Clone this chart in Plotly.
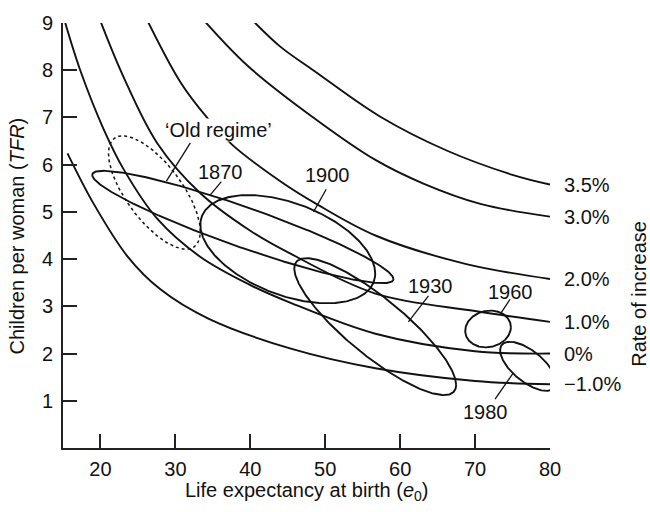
import numpy as np
import plotly.graph_objects as go

# ---------------- data ----------------
rate_labels = ["3.5%", "3.0%", "2.0%", "1.0%", "0%", "\u22121.0%"]

e0_r35 = [40.4, 44.0, 48.4, 57.3, 66.2, 75.1, 80.0]
tfr_r35 = [9.04, 8.50, 8.00, 7.02, 6.30, 5.78, 5.58]

e0_r30 = [33.9, 39.6, 48.4, 56.7, 63.1, 70.7, 80.0]
tfr_r30 = [9.04, 8.10, 7.00, 6.10, 5.60, 5.17, 4.90]

e0_r20 = [26.3, 30.7, 34.2, 37.6, 44.0, 48.7, 56.7, 68.7, 80.0]
tfr_r20 = [9.04, 7.74, 7.00, 6.42, 5.65, 5.18, 4.50, 3.90, 3.58]

e0_r10 = [20.0, 23.1, 27.6, 33.3, 40.0, 45.3, 56.7, 70.0, 80.0]
tfr_r10 = [9.04, 7.85, 6.45, 5.40, 4.60, 4.12, 3.27, 2.90, 2.67]

e0_r00 = [15.3, 17.3, 20.4, 23.1, 27.6, 33.3, 40.0, 45.3, 56.7, 70.0, 80.0]
tfr_r00 = [9.00, 8.00, 6.76, 5.90, 4.85, 4.05, 3.45, 3.08, 2.42, 2.05, 2.00]

e0_rm10 = [15.6, 19.1, 23.6, 28.0, 34.4, 45.3, 56.7, 70.0, 80.0]
tfr_rm10 = [6.24, 5.17, 4.06, 3.36, 2.74, 2.11, 1.69, 1.42, 1.35]

curve_e0 = [e0_r35, e0_r30, e0_r20, e0_r10, e0_r00, e0_rm10]
curve_tfr = [tfr_r35, tfr_r30, tfr_r20, tfr_r10, tfr_r00, tfr_rm10]

# ellipses: name, centre e0, centre TFR, half-range e0, half-range TFR, correlation
ell_names = ["\u2018Old regime\u2019", "1870", "1900", "1930", "1960", "1980"]
ell_cx = [27.2, 39.0, 45.0, 56.67, 71.73, 77.07]
ell_cy = [5.41, 4.68, 4.21, 2.57, 2.52, 1.73]
ell_sx = [6.13, 20.1, 11.67, 10.8, 3.05, 3.73]
ell_sy = [1.20, 1.19, 1.146, 1.45, 0.39, 0.52]
ell_rho = [-0.69, -0.926, -0.45, -0.85, 0.10, -0.65]

# label positions (text centre) and leader lines (from, to) in data units
lab_x = [35.73, 36.0, 50.27, 64.0, 74.67, 71.33]
lab_y = [6.73, 5.85, 5.78, 3.44, 3.31, 0.76]
lead_x0 = [32.0, 36.13, 50.13, 63.78, 74.67, 72.67]
lead_y0 = [6.46, 5.64, 5.48, 3.22, 3.15, 1.035]
lead_x1 = [28.8, 34.67, 48.44, 61.1, 73.47, 75.1]
lead_y1 = [5.65, 5.36, 5.00, 2.67, 2.86, 1.59]

x_ticks = [20, 30, 40, 50, 60, 70, 80]
y_ticks = [1, 2, 3, 4, 5, 6, 7, 8, 9]

FONT = "Liberation Sans, Arial, Helvetica, sans-serif"
INK = "#111111"
FS = 20

fig = go.Figure()

for ex, ty in zip(curve_e0, curve_tfr):
    fig.add_trace(go.Scatter(x=ex, y=ty, mode="lines",
                             line=dict(color=INK, width=1.9, shape="spline", smoothing=1.0),
                             hoverinfo="skip", showlegend=False))

t = np.linspace(0, 2 * np.pi, 361)
for i in range(len(ell_names)):
    r = ell_rho[i]
    ex = ell_cx[i] + ell_sx[i] * np.cos(t)
    ey = ell_cy[i] + ell_sy[i] * (r * np.cos(t) + np.sqrt(1 - r * r) * np.sin(t))
    dash = "dot" if i == 0 else "solid"
    width = 1.5 if i == 0 else 1.9
    fig.add_trace(go.Scatter(x=ex, y=ey, mode="lines",
                             line=dict(color=INK, width=width, dash=dash),
                             hoverinfo="skip", showlegend=False))

shapes = []
annotations = []
for i in range(len(ell_names)):
    shapes.append(dict(type="line", xref="x", yref="y",
                       x0=lead_x0[i], y0=lead_y0[i], x1=lead_x1[i], y1=lead_y1[i],
                       line=dict(color=INK, width=1.3)))
    annotations.append(dict(x=lab_x[i], y=lab_y[i], xref="x", yref="y", text=ell_names[i],
                            showarrow=False, xanchor="center", yanchor="middle",
                            bgcolor="white" if i == 0 else "rgba(0,0,0,0)", borderpad=0,
                            font=dict(family=FONT, size=FS, color=INK)))

for lbl, ty in zip(rate_labels, curve_tfr):
    annotations.append(dict(x=80, y=ty[-1], xref="x", yref="y", text=lbl, showarrow=False,
                            xanchor="left", yanchor="middle", xshift=12,
                            font=dict(family=FONT, size=FS, color=INK)))

# axis titles
annotations.append(dict(x=0.5, y=-0.1016, xref="paper", yref="paper",
                        text="Life expectancy at birth (<i>e</i><sub>0</sub>)",
                        showarrow=False, xanchor="center", yanchor="middle",
                        font=dict(family=FONT, size=FS, color=INK)))
annotations.append(dict(x=-0.0945, y=0.5, xref="paper", yref="paper",
                        text="Children per woman (<i>TFR</i>)", textangle=-90,
                        showarrow=False, xanchor="center", yanchor="middle",
                        font=dict(family=FONT, size=FS, color=INK)))
annotations.append(dict(x=1.1828, y=0.363, xref="paper", yref="paper",
                        text="Rate of increase", textangle=-90,
                        showarrow=False, xanchor="center", yanchor="middle",
                        font=dict(family=FONT, size=FS, color=INK)))

axis_common = dict(showgrid=False, zeroline=False, showline=True, linecolor="#222222",
                   linewidth=1.8, ticks="inside", ticklen=14, tickwidth=1.5,
                   tickcolor="#222222", tickfont=dict(family=FONT, size=FS, color=INK))

fig.update_layout(
    width=650, height=512,
    margin=dict(l=63, r=100, t=16, b=64),
    plot_bgcolor="white", paper_bgcolor="white",
    xaxis=dict(range=[15, 80], tickvals=x_ticks, ticklabelstandoff=2, **axis_common),
    yaxis=dict(range=[0, 9], tickvals=y_ticks, ticklabelstandoff=4, **axis_common),
    shapes=shapes, annotations=annotations, showlegend=False,
)

fig.write_html("out.html", config={"displayModeBar": False},
               post_script="document.body.style.margin='0px';")
